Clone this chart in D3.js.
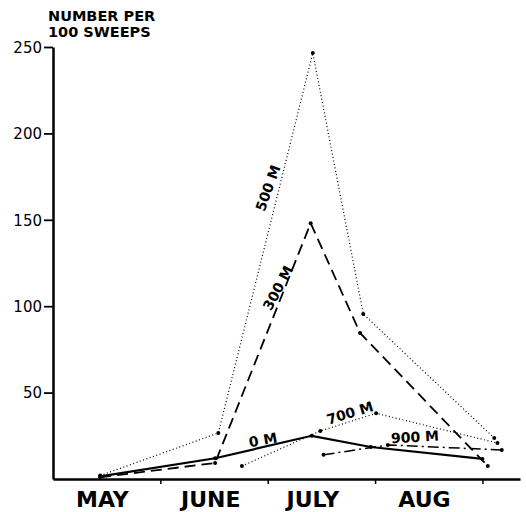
<!DOCTYPE html>
<html>
<head>
<meta charset="utf-8">
<script src="https://cdn.jsdelivr.net/npm/d3@7"></script>
<style>
  body { margin: 0; background: #fff; }
  text { font-family: "DejaVu Sans", sans-serif; fill: #000; }
</style>
</head>
<body>
<div id="chart"></div>
<script>
// month index: 0 = 1 May, 1 = 1 June, ... 4 = 1 Sept
const months = ['MAY', 'JUNE', 'JULY', 'AUG'];
const monthCenters = [0.46, 1.47, 2.42, 3.46];
const monthBounds = [1, 2, 3, 4];
const yTicks = [50, 100, 150, 200, 250];

const m0 = [[0.44, 1.5], [1.51, 12], [2.41, 25], [2.96, 18.5], [4.0, 11.6]];
const m300 = [[0.44, 1], [1.51, 9.3], [2.40, 148], [2.86, 84.5], [4.05, 7.5]];
const m500 = [[0.44, 2], [1.54, 26.6], [2.42, 246.5], [2.89, 95.5], [4.11, 23.7]];
const m700 = [[1.76, 7.5], [2.49, 27.8], [3.01, 38], [4.14, 20.8]];
const m900 = [[2.52, 14], [3.12, 19.7], [4.18, 16.8]];

const width = 526, height = 512;
const svg = d3.select('#chart').append('svg')
  .attr('width', width)
  .attr('height', height);

const x = d3.scaleLinear().domain([0, 4.35]).range([53, 520]);
const y = d3.scaleLinear().domain([0, 250]).range([479, 47]);

// axes
const yAxis = d3.axisLeft(y).tickValues(yTicks).tickSize(9).tickPadding(2).tickSizeOuter(0);
const gy = svg.append('g').attr('transform', `translate(${x(0)},0)`).call(yAxis);
gy.select('.domain').attr('stroke-width', 2.5);
gy.selectAll('.tick line').attr('stroke-width', 1.8);
gy.selectAll('.tick text').style('font-size', '15px').attr('dy', '0.35em');

const xAxis = d3.axisBottom(x).tickValues(monthBounds).tickSize(5).tickFormat('').tickSizeOuter(0);
const gx = svg.append('g').attr('transform', `translate(0,${y(0)})`).call(xAxis);
gx.select('.domain').attr('stroke-width', 2.5);
gx.selectAll('.tick line').attr('stroke-width', 1.5);

svg.selectAll('.month').data(months).join('text')
  .attr('class', 'month')
  .attr('x', (d, i) => x(monthCenters[i]))
  .attr('y', 507)
  .attr('text-anchor', 'middle')
  .style('font-size', '22px')
  .style('font-weight', 'bold')
  .text(d => d);

svg.append('text').attr('x', 48).attr('y', 21).style('font-size', '14.5px').style('font-weight', 'bold').text('NUMBER PER');
svg.append('text').attr('x', 48).attr('y', 37).style('font-size', '14.5px').style('font-weight', 'bold').text('100 SWEEPS');

const line = d3.line().x(d => x(d[0])).y(d => y(d[1]));

const series = [
  { data: m500, w: 1.2, dash: '1,2.5' },
  { data: m700, w: 1.2, dash: '1,2.5' },
  { data: m300, w: 1.8, dash: '11,6' },
  { data: m0, w: 2.2, dash: null },
  { data: m900, w: 1.5, dash: '11,4,2,4' }
];

series.forEach(s => {
  svg.append('path')
    .datum(s.data)
    .attr('d', line)
    .attr('fill', 'none')
    .attr('stroke', '#000')
    .attr('stroke-width', s.w)
    .attr('stroke-dasharray', s.dash);
  svg.selectAll(null).data(s.data).join('circle')
    .attr('cx', d => x(d[0]))
    .attr('cy', d => y(d[1]))
    .attr('r', 2)
    .attr('fill', '#000');
});

// series labels
const labels = [
  { t: '500 M', x: 268, y: 188, a: -70 },
  { t: '300 M', x: 278, y: 288, a: -62 },
  { t: '0 M', x: 263, y: 440, a: -10 },
  { t: '700 M', x: 350, y: 413, a: -17 },
  { t: '900 M', x: 415, y: 437, a: -3 }
];
svg.selectAll('.lab').data(labels).join('text')
  .attr('class', 'lab')
  .attr('transform', d => `translate(${d.x},${d.y}) rotate(${d.a})`)
  .attr('text-anchor', 'middle')
  .attr('dy', '0.35em')
  .style('font-size', '14px')
  .style('font-weight', 'bold')
  .text(d => d.t);
</script>
</body>
</html>
